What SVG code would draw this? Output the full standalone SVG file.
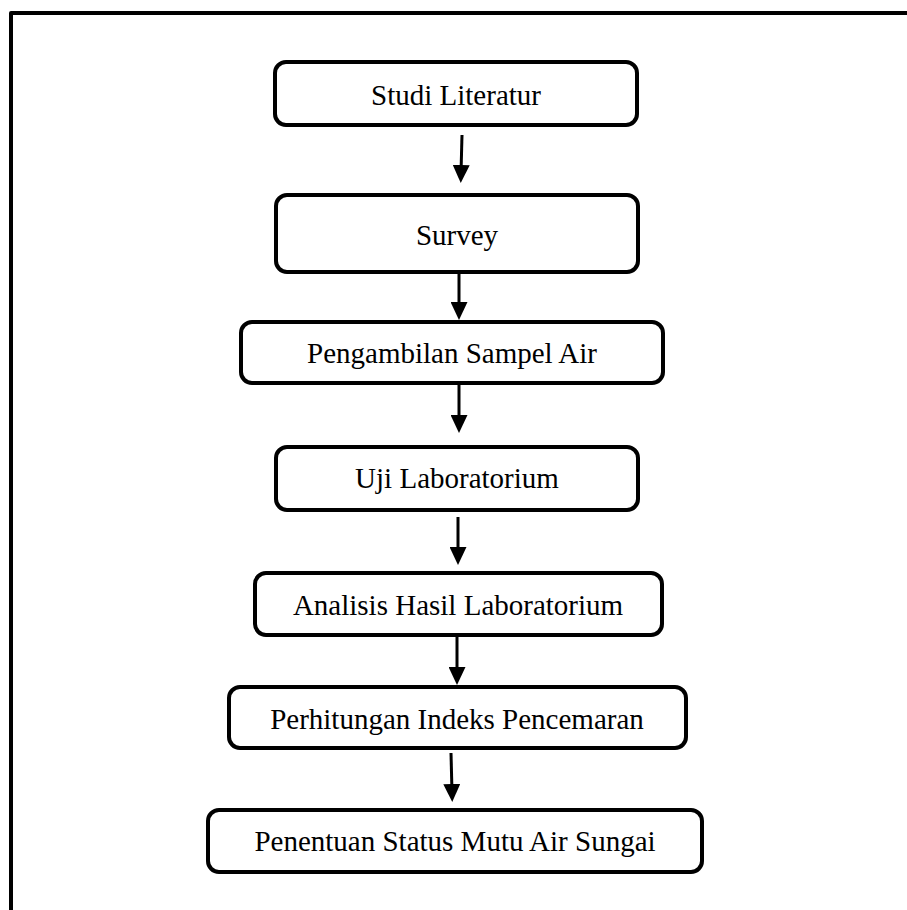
<svg xmlns="http://www.w3.org/2000/svg" width="907" height="910" viewBox="0 0 907 910">
<style>
.box{fill:#fff;stroke:#000;stroke-width:4}
.lbl{font-family:"Liberation Serif","Times New Roman",serif;font-size:29px;fill:#000;text-anchor:middle}
.con{stroke:#000;stroke-width:3;fill:none;marker-end:url(#ah)}
</style>
<defs>
<marker id="ah" viewBox="0 0 18 17" refX="8" refY="8.5" markerWidth="18" markerHeight="17" markerUnits="userSpaceOnUse" orient="auto">
<path d="M0,0 L18,8.5 L0,17 z" fill="#000"/>
</marker>
</defs>
<rect width="907" height="910" fill="#fff"/>
<path d="M11,910 V13 H907" fill="none" stroke="#000" stroke-width="4" stroke-linejoin="round"/>
<g id="connectors">
<line class="con" x1="462" y1="135" x2="461" y2="173"/>
<line class="con" x1="459" y1="272" x2="459" y2="310"/>
<line class="con" x1="459" y1="385" x2="459" y2="423"/>
<line class="con" x1="458" y1="517" x2="458" y2="555"/>
<line class="con" x1="457" y1="635" x2="457" y2="675"/>
<line class="con" x1="451" y1="753" x2="452" y2="792"/>
</g>
<g id="n1"><rect class="box" x="275" y="62" width="362" height="63" rx="11"/><text class="lbl" x="456" y="105">Studi Literatur</text></g>
<g id="n2"><rect class="box" x="276" y="195" width="362" height="77" rx="11"/><text class="lbl" x="457" y="245">Survey</text></g>
<g id="n3"><rect class="box" x="241" y="322" width="422" height="61" rx="11"/><text class="lbl" x="452" y="363">Pengambilan Sampel Air</text></g>
<g id="n4"><rect class="box" x="276" y="447" width="362" height="63" rx="11"/><text class="lbl" x="457" y="488">Uji Laboratorium</text></g>
<g id="n5"><rect class="box" x="255" y="573" width="407" height="62" rx="11"/><text class="lbl" x="458" y="615">Analisis Hasil Laboratorium</text></g>
<g id="n6"><rect class="box" x="229" y="687" width="457" height="61" rx="11"/><text class="lbl" x="457" y="729">Perhitungan Indeks Pencemaran</text></g>
<g id="n7"><rect class="box" x="208" y="810" width="494" height="62" rx="11"/><text class="lbl" x="455" y="851">Penentuan Status Mutu Air Sungai</text></g>
</svg>
